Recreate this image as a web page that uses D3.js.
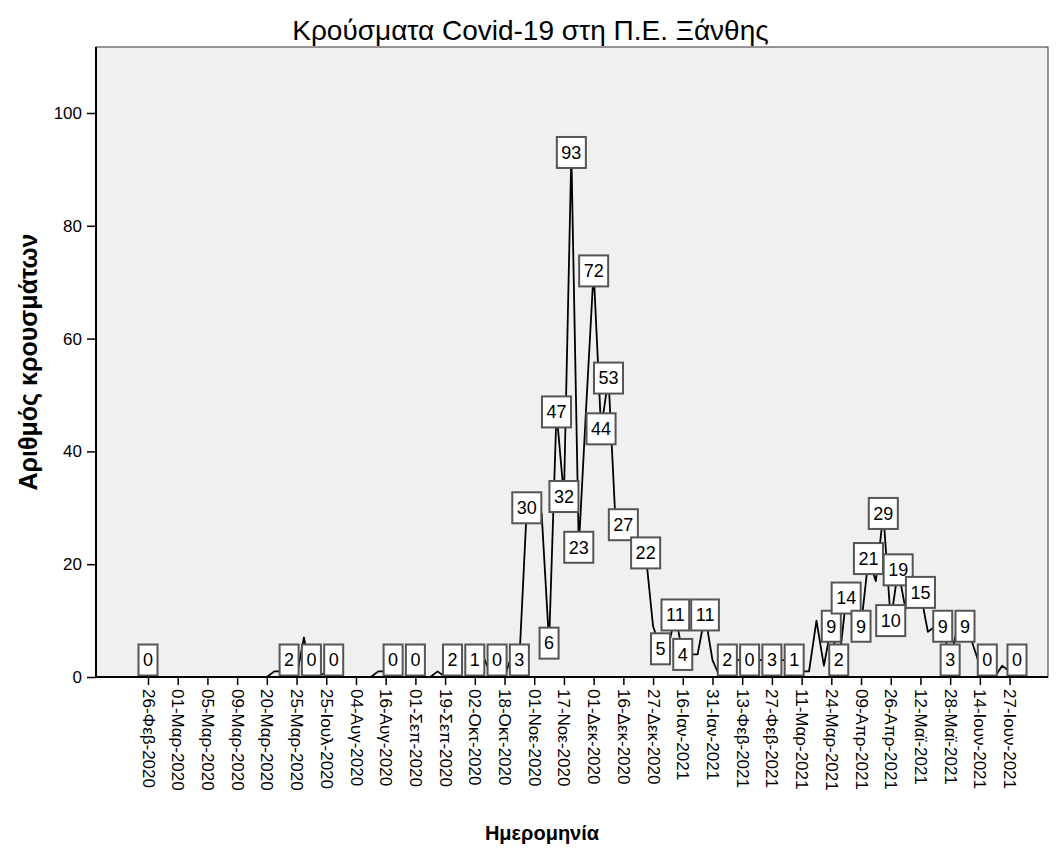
<!DOCTYPE html>
<html>
<head>
<meta charset="utf-8">
<style>
body { margin: 0; background: #fff; }
svg { font-family: "Liberation Sans", Arial, sans-serif; }
.frame { fill: #f0f0f0; stroke: #333; stroke-width: 1; }
.axis path { display: none; }
.axis line { stroke: #000; stroke-width: 1.5; }
.axis text { fill: #000; font-size: 17px; }
.base { stroke: #000; stroke-width: 2; }
.series { fill: none; stroke: #000; stroke-width: 1.8; stroke-linejoin: round; }
.lbl rect { fill: #fff; stroke: #555; stroke-width: 2; }
.lbl text { font-size: 18px; fill: #000; }
.title { font-size: 28px; }
.atitle { font-size: 20px; font-weight: bold; }
.ytitle { font-size: 25px; font-weight: bold; }
</style>
</head>
<body>
<script src="https://d3js.org/d3.v7.min.js"></script>
<script>

// daily case counts, one per reported date (category index)
var cases = [0,0,0,0,0,0,0,0,0,0,0,0,0,0,0,0,
  0,1,1,2,0,7,0,0,1,0,0,0,0,0,0,1,1,0,0,0,0,0,0,1,0,2,0,0,1,4,1,0,0,4,3,
  30,30,29,6,47,32,93,23,48,72,44,53,26,27,26,24,22,9,5,5,11,4,4,4,11,3,0,
  2,3,3,0,3,3,3,3,3,1,1,1,10,2,9,2,14,10,9,21,17,29,10,19,12,16,15,8,9,9,3,9,9,6,2,0,0,2,1,0];

// categories that carry a value label
var labelled = [0,19,22,25,33,36,41,44,47,50,51,54,55,56,57,58,60,61,62,64,67,69,71,72,75,
  78,81,84,87,92,93,94,96,97,99,100,101,104,107,108,110,113,117];

// a tick label every fourth category
var tickLabels = ["26-Φεβ-2020","01-Μαρ-2020","05-Μαρ-2020","09-Μαρ-2020","20-Μαρ-2020",
  "25-Μαρ-2020","25-Ιουλ-2020","04-Αυγ-2020","16-Αυγ-2020","01-Σεπ-2020","19-Σεπ-2020",
  "02-Οκτ-2020","18-Οκτ-2020","01-Νοε-2020","17-Νοε-2020","01-Δεκ-2020","16-Δεκ-2020",
  "27-Δεκ-2020","16-Ιαν-2021","31-Ιαν-2021","13-Φεβ-2021","27-Φεβ-2021","11-Μαρ-2021",
  "24-Μαρ-2021","09-Απρ-2021","26-Απρ-2021","12-Μαϊ-2021","28-Μαϊ-2021","14-Ιουν-2021",
  "27-Ιουν-2021"];
var tickEvery = 4;
var yTicks = [0, 20, 40, 60, 80, 100];

var width = 1061, height = 852;
var plotL = 96, plotR = 1048, plotT = 47, plotB = 677;

var svg = d3.select("body").append("svg")
    .attr("width", width)
    .attr("height", height);

var x = d3.scalePoint()
    .domain(d3.range(cases.length))
    .range([plotL + 52, plotR - 31]);

var y = d3.scaleLinear()
    .domain([0, 111.7])
    .range([plotB, plotT]);

svg.append("rect")
    .attr("class", "frame")
    .attr("x", plotL)
    .attr("y", plotT)
    .attr("width", plotR - plotL)
    .attr("height", plotB - plotT);

var line = d3.line()
    .x(function(d, i) { return x(i); })
    .y(function(d) { return y(d); });

svg.append("path")
    .datum(cases)
    .attr("class", "series")
    .attr("d", line);

// value labels, kept inside the plot area
var boxH = 31;
var lbl = svg.selectAll(".lbl")
    .data(labelled)
    .enter().append("g")
    .attr("class", "lbl")
    .attr("transform", function(i) {
      var cy = Math.min(y(cases[i]), plotB - 1.5 - boxH / 2);
      return "translate(" + x(i) + "," + cy + ")";
    });

lbl.append("rect");
lbl.append("text")
    .attr("text-anchor", "middle")
    .attr("dy", "0.35em")
    .text(function(i) { return cases[i]; });

lbl.each(function() {
  var g = d3.select(this);
  var w = g.select("text").node().getComputedTextLength() + 9;
  g.select("rect")
      .attr("x", -w / 2)
      .attr("y", -boxH / 2)
      .attr("width", w)
      .attr("height", boxH);
});

var xAxis = d3.axisBottom(x)
    .tickValues(d3.range(0, cases.length, tickEvery))
    .tickFormat(function(i) { return tickLabels[i / tickEvery]; })
    .tickSize(8)
    .tickSizeOuter(0);

var gx = svg.append("g")
    .attr("class", "axis")
    .attr("transform", "translate(0," + plotB + ")")
    .call(xAxis);

gx.selectAll("text")
    .attr("transform", "rotate(90)")
    .attr("x", 12)
    .attr("y", 0)
    .attr("dy", "0.35em")
    .style("text-anchor", "start");

var yAxis = d3.axisLeft(y)
    .tickValues(yTicks)
    .tickSize(9)
    .tickPadding(5)
    .tickSizeOuter(0);

svg.append("g")
    .attr("class", "axis")
    .attr("transform", "translate(" + plotL + ",0)")
    .call(yAxis);

svg.append("line").attr("class", "base")
    .attr("x1", plotL).attr("x2", plotR).attr("y1", plotB).attr("y2", plotB);
svg.append("line").attr("class", "base")
    .attr("x1", plotL).attr("x2", plotL).attr("y1", plotT).attr("y2", plotB);

svg.append("text")
    .attr("class", "title")
    .attr("x", width / 2)
    .attr("y", 40)
    .attr("text-anchor", "middle")
    .text("Κρούσματα Covid-19 στη Π.Ε. Ξάνθης");

svg.append("text")
    .attr("class", "atitle")
    .attr("x", (plotL + plotR) / 2 - 30)
    .attr("y", 840)
    .attr("text-anchor", "middle")
    .text("Ημερομηνία");

svg.append("text")
    .attr("class", "ytitle")
    .attr("transform", "translate(37," + (plotT + plotB) / 2 + ") rotate(-90)")
    .attr("text-anchor", "middle")
    .text("Αριθμός κρουσμάτων");

</script>
</body>
</html>
